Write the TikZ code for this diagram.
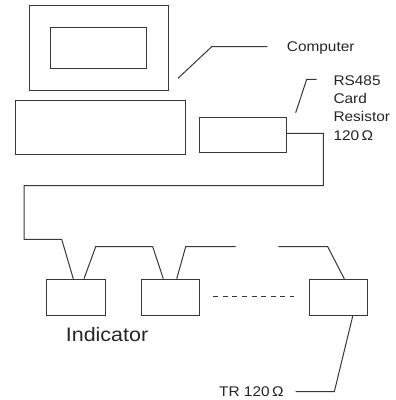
\documentclass[tikz,border=0pt]{standalone}
\usepackage{fontspec}
\setmainfont{Liberation Sans}
\newfontfamily\widefont[FakeStretch=1.1]{Liberation Sans}
\begin{document}
\begin{tikzpicture}[x=1pt,y=-1pt,
  ln/.style={draw=black!78,line width=1pt},
  boxnode/.style={ln,rectangle,inner sep=0pt,fill=white},
  lbl/.style={inner sep=0pt,anchor=base west,text=black!85,font=\widefont\fontsize{14}{16}\selectfont},
  biglbl/.style={inner sep=0pt,anchor=base west,text=black!85,font=\widefont\fontsize{19.5}{22}\selectfont}]
\useasboundingbox[fill=white] (0,0) rectangle (396,400);
% computer
\node[boxnode,minimum width=139pt,minimum height=85pt] (mon) at (98.8,47.5) {};
\node[boxnode,minimum width=96pt,minimum height=41.7pt] (scr) at (98.7,47.85) {};
\node[boxnode,minimum width=169.7pt,minimum height=54pt] (base) at (100.15,127) {};
% card
\node[boxnode,minimum width=87.4pt,minimum height=35.4pt] (card) at (243,135) {};
% indicators
\node[boxnode,minimum width=58.6pt,minimum height=36.4pt] (ind1) at (76,297.5) {};
\node[boxnode,minimum width=58.6pt,minimum height=36.4pt] (ind2) at (170.65,297.5) {};
\node[boxnode,minimum width=58.6pt,minimum height=36.4pt] (ind3) at (338.35,297.5) {};
% labels
\node[lbl] (comp) at (286.7,51.7) {Computer};
\node[lbl] (rs1) at (333.3,85) {RS485};
\node[lbl] (rs2) at (333.3,103.3) {Card};
\node[lbl] (rs3) at (333.3,121.7) {Resistor};
\node[lbl] (rs4) at (333.3,140) {120\,Ω};
\node[biglbl] (indl) at (65.7,341) {Indicator};
\node[lbl] (tr) at (219,396.7) {TR 120\,Ω};
% leader coordinates
\coordinate (cl0) at (178,78.3);
\coordinate (cl1) at (211.7,46.7);
\coordinate (cl2) at (267.3,46.7);
\coordinate (rl0) at (295.7,112.7);
\coordinate (rl1) at (306.7,79.3);
\coordinate (rl2) at (316.7,79.3);
\coordinate (trend) at (295.7,391.7);
\draw[ln] (cl0) -- (cl1) -- (cl2);
\draw[ln] (rl0) -- (rl1) -- (rl2);
% bus cable
\draw[ln] ([yshift=1.7pt]card.east) -- (323.3,133.3) -- (323.3,185.7) -- (24,185.7) -- (24,239.3) -- (61.7,239.3) -- ([xshift=-2.7pt]ind1.north);
\draw[ln] ([xshift=8pt]ind1.north) -- (95.7,246.7) -- (152.7,246.7) -- ([xshift=-7.35pt]ind2.north);
\coordinate (open1) at (235.7,246.7);
\coordinate (open2) at (278.3,246.7);
\draw[ln] ([xshift=6.05pt]ind2.north) -- (185.7,246.7) -- (open1);
\draw[ln] (open2) -- (327.7,246.7) -- ([xshift=5.95pt]ind3.north);
\draw[ln,dash pattern=on 5pt off 4.6pt] ([xshift=12.7pt,yshift=1.5pt]ind2.east) -- ([xshift=-14.3pt,yshift=1.5pt]ind3.west);
\draw[ln] ([xshift=14.35pt]ind3.south) -- (334.3,391.7) -- (trend);
\end{tikzpicture}
\end{document}
